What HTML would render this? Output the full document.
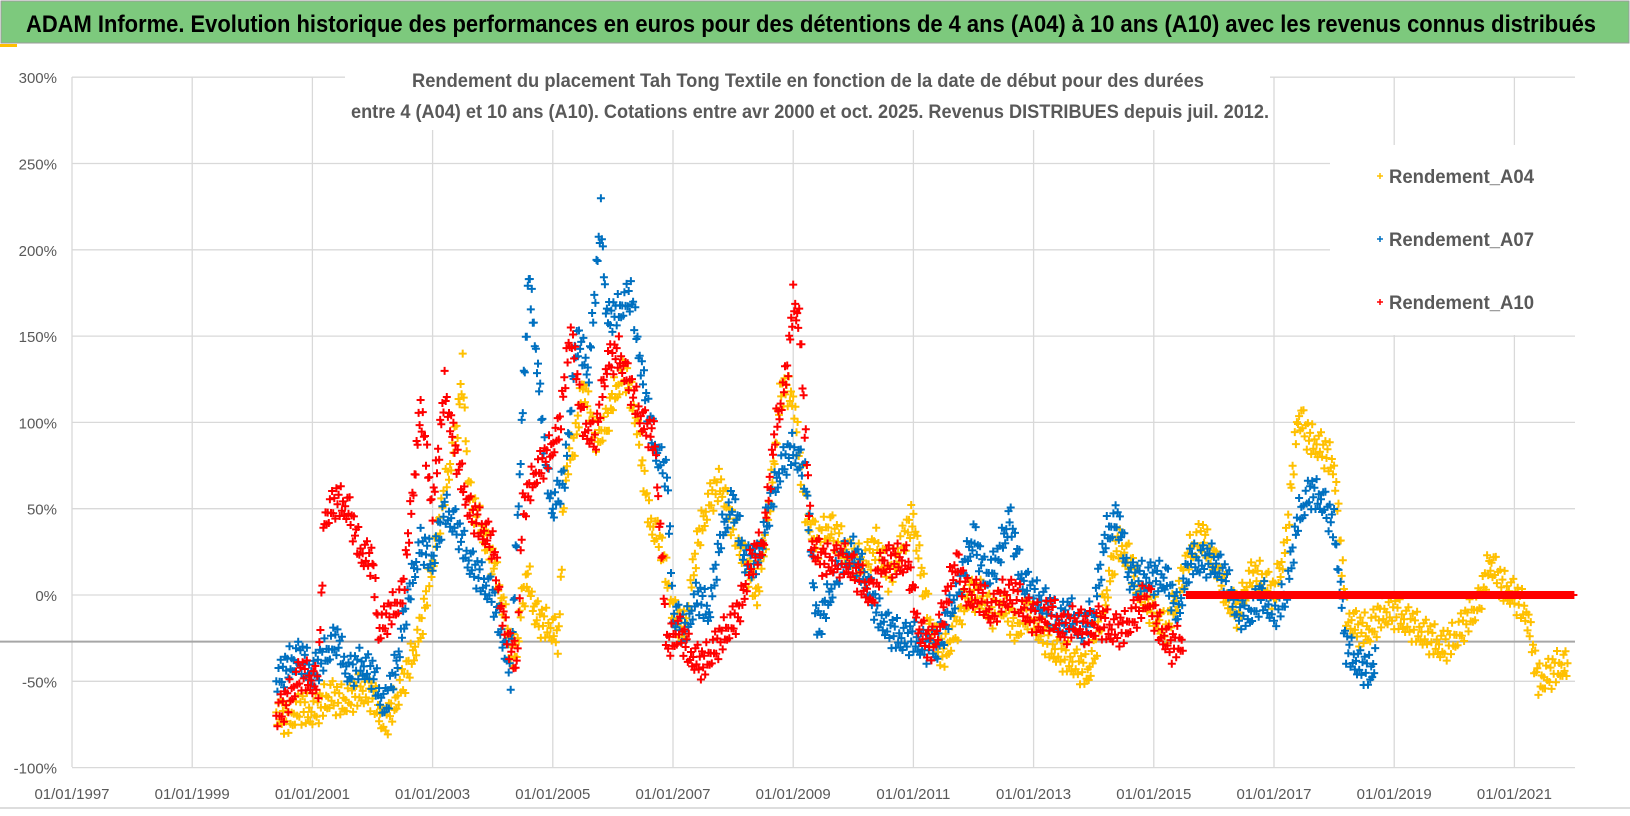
<!DOCTYPE html>
<html><head><meta charset="utf-8"><style>
html,body{margin:0;padding:0;background:#fff;}
svg{display:block;font-family:"Liberation Sans",sans-serif;}
</style></head><body>
<svg id="chart" width="1630" height="816" viewBox="0 0 1630 816">
<rect x="0" y="0" width="1630" height="816" fill="#fff"/>
<rect x="1" y="1" width="1628" height="42" fill="#7dc97d" stroke="#9a9a9a" stroke-width="1"/>
<text x="26" y="32" font-size="24" font-weight="bold" fill="#000" textLength="1570" lengthAdjust="spacingAndGlyphs">ADAM Informe. Evolution historique des performances en euros pour des détentions de 4 ans (A04) à 10 ans (A10) avec les revenus connus distribués</text>
<rect x="0" y="44" width="17" height="3" fill="#ffc000"/>
<line x1="0" y1="808" x2="1630" y2="808" stroke="#bbb"/>
<g id="grid"></g>
<g id="axes"></g>
<rect x="345" y="62" width="925" height="68" fill="#fff"/>
<text x="808" y="87" text-anchor="middle" font-size="19" font-weight="bold" fill="#595959" textLength="792" lengthAdjust="spacingAndGlyphs">Rendement du placement Tah Tong Textile  en fonction de la date de début pour des durées</text>
<text x="810" y="118" text-anchor="middle" font-size="19" font-weight="bold" fill="#595959" textLength="918" lengthAdjust="spacingAndGlyphs">entre 4 (A04) et 10 ans (A10).  Cotations entre avr 2000 et oct. 2025. Revenus DISTRIBUES depuis juil. 2012.</text>
<g id="marks"></g>
<rect x="1330" y="145" width="245" height="190" fill="#fff"/>
<g><path d="M1377,176h6M1380,173v6" stroke="#ffc000" stroke-width="1.5"/><text x="1389" y="183" font-size="19" font-weight="bold" fill="#595959" textLength="145" lengthAdjust="spacingAndGlyphs">Rendement_A04</text></g>
<g><path d="M1377,239h6M1380,236v6" stroke="#0070c0" stroke-width="1.5"/><text x="1389" y="246" font-size="19" font-weight="bold" fill="#595959" textLength="145" lengthAdjust="spacingAndGlyphs">Rendement_A07</text></g>
<g><path d="M1377,302h6M1380,299v6" stroke="#ff0000" stroke-width="1.5"/><text x="1389" y="309" font-size="19" font-weight="bold" fill="#595959" textLength="145" lengthAdjust="spacingAndGlyphs">Rendement_A10</text></g>
</svg>
<script>
const yTicks=[300,250,200,150,100,50,0,-50,-100];
const yTickLabels=["300%","250%","200%","150%","100%","50%","0%","-50%","-100%"];
const xTicks=[1997,1999,2001,2003,2005,2007,2009,2011,2013,2015,2017,2019,2021];
const xTickLabels=["01/01/1997","01/01/1999","01/01/2001","01/01/2003","01/01/2005","01/01/2007","01/01/2009","01/01/2011","01/01/2013","01/01/2015","01/01/2017","01/01/2019","01/01/2021"];
const refLineValue=-27;

const a04Dates=[2000.4,2000.6,2000.8,2001.0,2001.3,2001.5,2001.8,2002.0,2002.2,2002.4,2002.6,2002.8,2003.0,2003.2,2003.4,2003.5,2003.6,2003.8,2004.0,2004.2,2004.3,2004.4,2004.5,2004.6,2004.7,2004.8,2005.0,2005.1,2005.2,2005.4,2005.5,2005.7,2005.9,2006.0,2006.2,2006.4,2006.6,2006.8,2007.0,2007.2,2007.4,2007.6,2007.8,2008.0,2008.2,2008.4,2008.6,2008.8,2009.0,2009.2,2009.4,2009.6,2009.8,2010.0,2010.2,2010.4,2010.6,2010.8,2011.0,2011.1,2011.3,2011.5,2011.7,2011.9,2012.1,2012.3,2012.5,2012.7,2012.9,2013.1,2013.3,2013.5,2013.7,2013.9,2014.0,2014.2,2014.4,2014.6,2014.8,2015.0,2015.2,2015.4,2015.6,2015.8,2016.0,2016.2,2016.4,2016.6,2016.8,2017.0,2017.2,2017.4,2017.6,2017.8,2018.0,2018.2,2018.4,2018.6,2018.8,2019.0,2019.2,2019.4,2019.6,2019.8,2020.0,2020.2,2020.4,2020.6,2020.8,2021.0,2021.2,2021.4,2021.6,2021.8,2021.9];
const a04Values=[-68,-72,-65,-68,-58,-62,-55,-58,-75,-60,-42,-20,20,60,95,130,60,40,20,-10,-35,-30,0,10,-10,-15,-20,-25,70,95,125,90,100,115,130,100,45,30,-10,-20,30,55,65,40,20,0,50,120,115,50,30,40,30,20,20,30,10,30,45,20,-20,-35,-20,0,0,-10,-5,-20,-10,-20,-30,-35,-40,-45,-35,0,30,20,0,-10,-20,0,25,35,20,0,-10,10,10,0,30,105,90,85,75,-10,-20,-20,-10,-10,-15,-20,-25,-30,-25,-15,-5,20,5,0,-10,-50,-45,-40,-43];

const a07Dates=[2000.4,2000.6,2000.8,2001.0,2001.2,2001.4,2001.6,2001.8,2002.0,2002.2,2002.4,2002.6,2002.8,2003.0,2003.2,2003.4,2003.6,2003.8,2004.0,2004.2,2004.3,2004.45,2004.6,2004.7,2004.9,2005.0,2005.2,2005.4,2005.6,2005.8,2005.9,2006.1,2006.3,2006.5,2006.7,2006.9,2007.0,2007.2,2007.4,2007.6,2007.8,2008.0,2008.2,2008.4,2008.6,2008.8,2009.0,2009.2,2009.4,2009.6,2009.8,2010.0,2010.2,2010.4,2010.6,2010.8,2011.0,2011.2,2011.4,2011.6,2011.8,2012.0,2012.2,2012.4,2012.6,2012.8,2013.0,2013.2,2013.4,2013.6,2013.8,2014.0,2014.2,2014.4,2014.6,2014.8,2015.0,2015.2,2015.4,2015.6,2015.8,2016.0,2016.2,2016.4,2016.6,2016.8,2017.0,2017.2,2017.4,2017.6,2017.8,2018.0,2018.2,2018.4,2018.6,2018.7];
const a07Values=[-50,-40,-35,-45,-35,-25,-45,-40,-45,-65,-40,0,30,20,50,40,20,10,0,-30,-45,70,185,150,70,50,70,150,130,220,160,165,175,125,85,70,-10,-20,0,-10,35,55,20,20,50,75,85,70,-20,0,20,25,10,-10,-20,-25,-25,-30,-30,-10,10,35,10,20,45,10,0,-5,-15,-10,-20,-10,35,45,10,10,10,10,-10,20,20,20,10,-10,-10,0,-10,0,45,60,55,40,-30,-40,-45,-35];

const a10Dates=[2000.4,2000.6,2000.8,2001.0,2001.1,2001.2,2001.4,2001.6,2001.8,2002.0,2002.1,2002.3,2002.5,2002.7,2002.8,2003.0,2003.2,2003.4,2003.6,2003.8,2004.0,2004.2,2004.4,2004.5,2004.7,2004.9,2005.1,2005.3,2005.5,2005.7,2005.9,2006.1,2006.3,2006.5,2006.7,2006.9,2007.1,2007.3,2007.5,2007.7,2007.9,2008.1,2008.3,2008.5,2008.7,2008.9,2009.0,2009.1,2009.3,2009.5,2009.7,2009.9,2010.1,2010.3,2010.5,2010.7,2010.9,2011.1,2011.3,2011.5,2011.7,2011.9,2012.1,2012.3,2012.5,2012.7,2012.9,2013.1,2013.3,2013.5,2013.7,2013.9,2014.1,2014.3,2014.5,2014.7,2014.9,2015.1,2015.3,2015.5];
const a10Values=[-70,-60,-45,-50,-50,45,55,50,25,20,-20,-10,0,70,110,50,120,80,50,40,30,-20,-40,50,70,80,95,155,100,90,135,140,120,100,90,-30,-20,-35,-40,-30,-20,-10,20,30,95,130,170,160,30,20,20,20,10,0,20,20,20,-20,-30,-10,20,0,0,-10,0,0,-10,-15,-10,-20,-15,-20,-15,-20,-20,-10,0,-20,-30,-25];
const a10FlatDates=[2015.55,2022.0];
const a10FlatValues=[0,0];

const X0=72,PX_YEAR=60.1,Y0=595,PX_PCT=1.726,PLOT_R=1575,PLOT_T=77,PLOT_B=767;
function xScale(d){return X0+(d-1997)*PX_YEAR;}
function yScale(v){return Y0-v*PX_PCT;}
const NS="http://www.w3.org/2000/svg";
const grid=document.getElementById('grid'),axes=document.getElementById('axes'),marks=document.getElementById('marks');
function mk(tag,attrs,parent){const e=document.createElementNS(NS,tag);for(const k in attrs)e.setAttribute(k,attrs[k]);parent.appendChild(e);return e;}

yTicks.forEach((v,i)=>{
  const l=mk('line',{x1:X0,x2:PLOT_R,y1:yScale(v),y2:yScale(v),stroke:'#d9d9d9','stroke-width':1.3},grid);
  
  
  const t=mk('text',{x:57,y:yScale(v)+6,'text-anchor':'end','font-size':15,fill:'#595959'},axes);
  t.textContent=yTickLabels[i];
  
  
});
xTicks.forEach((d,i)=>{
  const l=mk('line',{x1:xScale(d),x2:xScale(d),y1:PLOT_T,y2:PLOT_B,stroke:'#d9d9d9','stroke-width':1.3},grid);
  
  
  const t=mk('text',{x:xScale(d),y:799,'text-anchor':'middle','font-size':15,fill:'#595959'},axes);
  t.textContent=xTickLabels[i];
  
  
});
const ref=mk('line',{x1:0,x2:PLOT_R,y1:yScale(refLineValue),y2:yScale(refLineValue),stroke:'#a6a6a6','stroke-width':2},grid);



const jitter=[0,7,-6,3,-9,5,-3,10,-7,2,-4,8,-10,4,-2,6];
function drawSeries(dates,vals,color,name,jit){
  let d='';let k=0;
  for(let i=0;i<dates.length-1;i++){
    const x1=xScale(dates[i]),x2=xScale(dates[i+1]),y1=yScale(vals[i]),y2=yScale(vals[i+1]);
    const n=Math.max(1,Math.ceil((x2-x1)/1.1));
    for(let s=0;s<n;s++){
      const f=s/n;const x=x1+(x2-x1)*f;const y=y1+(y2-y1)*f+(jit?jitter[k%jitter.length]*1.7:0);k++;
      d+='M'+(x-4).toFixed(1)+','+y.toFixed(1)+'h8M'+x.toFixed(1)+','+(y-4).toFixed(1)+'v8';
    }
  }
  const p=mk('path',{d:d,stroke:color,'stroke-width':2,fill:'none'},marks);
  
  
}
drawSeries(a04Dates,a04Values,'#ffc000','series-rendement-a04',true);
drawSeries(a07Dates,a07Values,'#0070c0','series-rendement-a07',true);
drawSeries(a10Dates,a10Values,'#ff0000','series-rendement-a10',true);
drawSeries(a10FlatDates,a10FlatValues,'#ff0000','series-rendement-a10-flat',false);
</script>
</body></html>
